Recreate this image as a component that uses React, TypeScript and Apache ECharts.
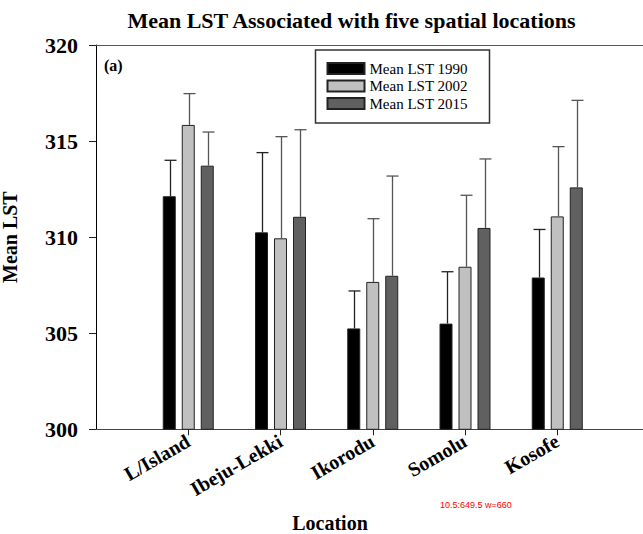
import React, { useEffect, useRef, useState } from "react";
import * as echarts from "echarts";

const categories = ["", "L/Island", "Ibeju-Lekki", "Ikorodu", "Somolu", "Kosofe", ""];
const seriesNames = ["Mean LST 1990", "Mean LST 2002", "Mean LST 2015"];
const mean1990 = [312.13, 310.25, 305.25, 305.5, 307.9];
const mean2002 = [315.84, 309.94, 307.67, 308.46, 311.08];
const mean2015 = [313.72, 311.06, 307.99, 310.48, 312.59];
const err1990 = [1.87, 4.15, 1.95, 2.7, 2.5];
const err2002 = [1.63, 5.29, 3.29, 3.72, 3.63];
const err2015 = [1.75, 4.53, 5.19, 3.59, 4.53];
const yTicks = [300, 305, 310, 315, 320];

const FONT = "Liberation Serif, Times New Roman, serif";
const fills = ["#000000", "#c0c0c0", "#606060"];
const errColors = ["#222222", "#555555", "#555555"];
const BAR_W = 13;
const BAR_GAP = 6;
const TARGET_RIGHT = 649.5;

export default function App() {
  const ref = useRef<HTMLDivElement>(null);
  const [dbg, setDbg] = useState("");
  useEffect(() => {
    if (!ref.current) return;
    const chart = echarts.init(ref.current, undefined, { renderer: "svg" });
    const means = [mean1990, mean2002, mean2015];
    const errs = [err1990, err2002, err2015];
    const pad = (arr: number[]) => [null, ...arr, null];

    const barSeries = means.map((m, i) => ({
      name: seriesNames[i],
      type: "bar",
      data: pad(m),
      barWidth: BAR_W,
      barGap: `${(BAR_GAP / BAR_W) * 100}%`,
      itemStyle: { color: fills[i], borderColor: "#222", borderWidth: 1 },
      z: 2,
    }));

    const errSeries = means.map((m, i) => ({
      name: seriesNames[i] + " err",
      type: "custom",
      data: m.map((v, k) => [k + 1, v, v + errs[i][k]]),
      encode: { x: 0, y: [1, 2] },
      z: 3,
      renderItem: (params: any, api: any) => {
        const idx = api.value(0);
        const p0 = api.coord([idx, api.value(1)]);
        const p1 = api.coord([idx, api.value(2)]);
        const off = (i - 1) * (BAR_W + BAR_GAP) + 0.5;
        const x = Math.round(p0[0] + off) + 0.5;
        const style = { stroke: errColors[i], lineWidth: 1.3 };
        return {
          type: "group",
          children: [
            { type: "line", shape: { x1: x, y1: p0[1], x2: x, y2: p1[1] }, style },
            { type: "line", shape: { x1: x - 6, y1: p1[1], x2: x + 6, y2: p1[1] }, style },
          ],
        };
      },
    }));

    const makeOption = (right: number) => ({
      animation: false,
      grid: {
        left: 96,
        top: 45,
        right,
        bottom: 104.7,
        show: false,
        containLabel: false,
        outerBoundsMode: "none",
      },
      legend: {
        data: seriesNames,
        orient: "vertical",
        left: 315.5,
        top: 50,
        itemWidth: 37,
        itemHeight: 11,
        itemGap: 2.5,
        padding: [11, 5, 10, 11],
        borderWidth: 0,
        icon: "rect",
        textStyle: { fontFamily: FONT, fontSize: 15, color: "#000" },
      },
      xAxis: [
        {
          type: "category",
          data: categories,
          boundaryGap: false,
          axisLine: { lineStyle: { color: "#444", width: 1 } },
          axisTick: {
            inside: false,
            length: 6,
            interval: (index: number) => index >= 1 && index <= 5,
            lineStyle: { color: "#222" },
          },
          axisLabel: {
            interval: 0,
            rotate: 30,
            margin: 10,
            fontFamily: FONT,
            fontWeight: "bold",
            fontSize: 20,
            color: "#000",
          },
          splitLine: { show: false },
        },
        {
          type: "category",
          position: "top",
          data: categories,
          boundaryGap: false,
          axisLine: { show: true, lineStyle: { color: "#555", width: 1 } },
          axisTick: { show: false },
          axisLabel: { show: false },
          splitLine: { show: false },
        },
      ],
      yAxis: {
        type: "value",
        min: yTicks[0],
        max: yTicks[yTicks.length - 1],
        interval: 5,
        name: "Mean LST",
        nameLocation: "middle",
        nameRotate: 90,
        nameGap: 76,
        nameTextStyle: { fontFamily: FONT, fontWeight: "bold", fontSize: 20, color: "#000" },
        axisLine: { show: true, lineStyle: { color: "#000", width: 1 } },
        axisTick: { show: true, inside: false, length: 7, lineStyle: { color: "#222" } },
        axisLabel: {
          margin: 18,
          fontFamily: FONT,
          fontWeight: "bold",
          fontSize: 22,
          color: "#000",
        },
        splitLine: { show: false },
      },
      graphic: [
        {
          type: "text",
          x: 351.5,
          y: 20,
          style: {
            text: "Mean LST Associated with five spatial locations",
            font: `bold 22px ${FONT}`,
            fill: "#000",
            textAlign: "center",
            textVerticalAlign: "middle",
          },
        },
        {
          type: "text",
          x: 104,
          y: 65,
          style: {
            text: "(a)",
            font: `bold 16px ${FONT}`,
            fill: "#000",
            textAlign: "left",
            textVerticalAlign: "middle",
          },
        },
        {
          type: "text",
          x: 330,
          y: 523,
          style: {
            text: "Location",
            font: `bold 20px ${FONT}`,
            fill: "#000",
            textAlign: "center",
            textVerticalAlign: "middle",
          },
        },
        {
          type: "rect",
          z: 10,
          shape: { x: 315.5, y: 50, width: 174, height: 73 },
          style: { fill: "none", stroke: "#333", lineWidth: 1.5 },
        },
      ],
      series: [...barSeries, ...errSeries],
    });

    let right = 660 - TARGET_RIGHT;
    chart.setOption(makeOption(right));
    const log: string[] = [];
    for (let k = 0; k < 3; k++) {
      const p6 = chart.convertToPixel({ xAxisIndex: 0 }, 6) as unknown as number;
      log.push(`${right.toFixed(1)}:${Number(p6).toFixed(1)}`);
      if (Math.abs(p6 - TARGET_RIGHT) < 0.5) break;
      right = right + (p6 - TARGET_RIGHT);
      chart.setOption(makeOption(right));
    }
    setDbg(log.join(" | ") + ` w=${chart.getWidth()}`);
    return () => chart.dispose();
  }, []);
  return (
    <>
      <div
        ref={ref}
        style={{ position: "fixed", left: 0, top: 0, width: 660, height: 534, background: "#fff" }}
      />
      <div
        style={{
          position: "fixed",
          left: 440,
          top: 500,
          fontSize: 9,
          fontFamily: "sans-serif",
          color: "red",
        }}
      >
        {dbg}
      </div>
    </>
  );
}
